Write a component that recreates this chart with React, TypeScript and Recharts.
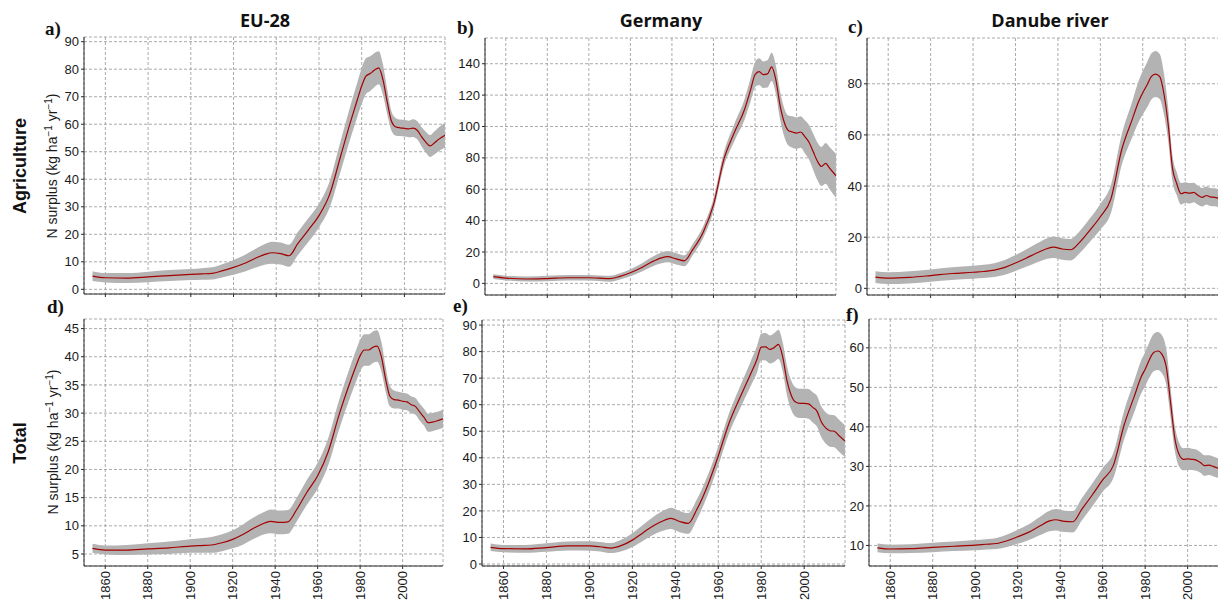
import { ComposedChart, Area, Line, XAxis, YAxis, CartesianGrid } from 'recharts'

const years = [
  1854, 1860, 1870, 1880, 1890, 1900, 1905, 1910, 1915, 1920,
  1925, 1930, 1935, 1938, 1942, 1946, 1950, 1955, 1960, 1965,
  1970, 1975, 1978, 1980, 1982, 1984, 1986, 1988, 1990, 1992,
  1994, 1996, 1998, 2000, 2002, 2004, 2006, 2008, 2010, 2012,
  2014, 2016, 2019,
]

// a) EU-28, agriculture
const euAgri = [
  4.8, 4.2, 4.1, 4.5, 5.0, 5.4, 5.6, 5.8, 6.8, 8.0,
  9.4, 11.2, 12.8, 13.3, 13.0, 12.2, 16.5, 21.5, 26.8, 34.5,
  48, 61.5, 69, 73.9, 77.5, 78.4, 79.7, 80.5, 76, 67.9,
  61, 59, 58.7, 58.5, 58.3, 58.6, 57.8, 55.5, 53.5, 52.1,
  53.2, 54.5, 56,
]
const euAgriBand = [
  1.8, 1.7, 1.8, 1.9, 2.0, 2.0, 2.1, 2.2, 2.4, 2.7,
  3.0, 3.4, 3.8, 4.0, 4.0, 4.0, 4.2, 4.3, 4.3, 4.8,
  5.5, 6.0, 6.3, 6.5, 6.5, 6.3, 6.2, 6.0, 5.5, 4.5,
  3.5, 3.2, 3.0, 3.0, 3.0, 3.2, 3.3, 3.5, 3.8, 4.0,
  4.2, 4.3, 4.5,
]

// b) Germany, agriculture
const deAgri = [
  4.3, 3.4, 2.8, 3.1, 3.6, 3.6, 3.3, 3.0, 4.5, 6.8,
  9.8, 13.5, 16.3, 17, 15.6, 14.4, 21.5, 32.5, 50, 79,
  96, 111, 124, 133, 135, 133, 133.5, 138, 130, 114,
  103, 97.5, 96.5, 95.8, 96.5, 93.5, 90, 84, 78, 74.5,
  76.5, 73.3, 68.6,
]
const deAgriBand = [
  1.5, 1.5, 1.6, 1.7, 1.8, 1.8, 1.8, 1.9, 2.0, 2.2,
  2.5, 3.0, 3.4, 3.6, 3.6, 3.5, 3.6, 3.8, 4.0, 4.5,
  5.5, 6.5, 7.5, 8.0, 8.5, 8.5, 8.7, 9.0, 9.0, 9.0,
  9.0, 9.5, 10, 10, 10, 10.5, 11, 11.5, 12, 12.5,
  13, 13.5, 14,
]

// c) Danube river, agriculture
const danAgri = [
  4.4, 4.0, 4.3, 5.0, 5.8, 6.3, 6.6, 7.1, 8.2, 9.9,
  11.8, 13.8, 15.6, 16.1, 15.4, 15.1, 17.8, 22.7, 28, 35,
  54, 66, 73, 76.5, 79.5, 82.8, 83.8, 82.8, 76, 64,
  47, 41, 37, 37.5, 37.2, 37.5, 36.4, 35.6, 36.3, 35.7,
  35.6, 35.2, 35.0,
]
const danAgriBand = [
  2.3, 2.3, 2.4, 2.4, 2.5, 2.5, 2.6, 2.7, 2.9, 3.1,
  3.4, 3.7, 4.0, 4.2, 4.2, 4.2, 4.3, 4.6, 5.0, 5.5,
  6.0, 7.0, 8.0, 8.5, 8.8, 9.0, 9.0, 8.8, 8.0, 6.5,
  5.0, 4.5, 4.2, 4.0, 4.0, 3.8, 3.7, 3.6, 3.5, 3.5,
  3.5, 3.5, 3.5,
]

// d) EU-28, total
const euTotal = [
  6.0, 5.7, 5.7, 5.9, 6.1, 6.4, 6.5, 6.6, 7.0, 7.6,
  8.5, 9.6, 10.5, 10.8, 10.6, 10.7, 12.8, 16, 18.9, 23.2,
  29.6, 35.2, 38.3, 40.2, 41.2, 41.2, 41.7, 41.9, 40, 36,
  33, 32.4, 32.3, 32.1, 32.0, 31.5, 31.2, 30.2, 29.3, 28.3,
  28.4, 28.6, 29.0,
]
const euTotalBand = [
  0.8, 0.8, 0.9, 1.0, 1.1, 1.2, 1.3, 1.4, 1.5, 1.6,
  1.8, 1.9, 2.0, 2.1, 2.1, 2.1, 2.1, 2.2, 2.3, 2.4,
  2.6, 2.7, 2.8, 2.8, 2.8, 2.8, 2.8, 2.8, 2.6, 2.2,
  1.8, 1.6, 1.5, 1.5, 1.5, 1.5, 1.5, 1.5, 1.5, 1.6,
  1.6, 1.6, 1.6,
]

// e) Germany, total
const deTotal = [
  6.3, 5.8, 5.7, 6.2, 6.8, 6.8, 6.5, 6.0, 7.0, 9.0,
  11.8, 14.5, 16.5, 17.2, 16.0, 15.3, 20.5, 29.5, 40.7, 53,
  62.5, 71.5, 77, 81.7, 81.8, 80.8, 81.5, 82.7, 78, 69,
  63.5, 61, 60.5, 60.5, 60.3, 59, 57.5, 53.5, 51.3, 50.2,
  50, 48.5, 46.3,
]
const deTotalBand = [
  1.4, 1.4, 1.5, 1.6, 1.7, 1.8, 1.8, 1.9, 2.2, 2.6,
  3.0, 3.4, 3.8, 4.0, 4.0, 3.9, 3.8, 3.7, 3.6, 3.8,
  4.2, 4.6, 5.0, 5.0, 5.2, 5.3, 5.4, 5.5, 5.5, 5.5,
  5.5, 5.5, 5.5, 5.5, 5.6, 5.7, 5.8, 5.8, 5.9, 6.0,
  6.0, 6.0, 6.0,
]

// f) Danube river, total
const danTotal = [
  9.4, 9.1, 9.2, 9.5, 9.8, 10.1, 10.3, 10.5, 11.2, 12.2,
  13.3, 14.8, 16.2, 16.5, 16.1, 16.0, 19, 22.7, 26.6, 30.2,
  40.3, 47.9, 52.5, 54.6, 57, 58.8, 59.2, 58.3, 55, 46,
  37, 33, 31.8, 31.9, 31.8, 31.6, 31, 30.2, 30.3, 30,
  29.6, 29.4, 29,
]
const danTotalBand = [
  1.1, 1.1, 1.1, 1.2, 1.2, 1.3, 1.3, 1.4, 1.6, 1.8,
  2.0, 2.3, 2.6, 2.7, 2.7, 2.7, 2.8, 2.9, 3.0, 3.2,
  3.6, 4.0, 4.2, 4.3, 4.5, 4.7, 4.8, 4.8, 4.5, 3.8,
  3.2, 3.0, 2.8, 2.8, 2.7, 2.7, 2.6, 2.6, 2.5, 2.5,
  2.5, 2.5, 2.5,
]

const yearTicks = [1860, 1880, 1900, 1920, 1940, 1960, 1980, 2000]
const columnTitles = ['EU-28', 'Germany', 'Danube river']
const rowTitles = ['Agriculture', 'Total']

const sans = '"Liberation Sans", Arial, sans-serif'
const serif = '"Liberation Serif", "Times New Roman", serif'
const border = '#2b2b2b'

function YearTick({ x, y, payload }: any) {
  return (
    <text
      x={x}
      y={y}
      transform={`rotate(-90, ${x}, ${y})`}
      textAnchor="end"
      dy="0.35em"
      fontSize={13}
      fontFamily={sans}
      fill="#1a1a1a"
    >
      {payload.value}
    </text>
  )
}

const NoTick = () => <g />

type PanelProps = {
  left: number
  top: number
  width: number
  height: number
  mid: number[]
  band: number[]
  domain: [number, number]
  ticks: number[]
  bottom?: boolean
}

function Panel({ left, top, width, height, mid, band, domain, ticks, bottom }: PanelProps) {
  const rows = years.map((year, i) => ({ year, mid: mid[i], range: [mid[i] - band[i], mid[i] + band[i]] }))
  const axisH = bottom ? 40 : 5
  return (
    <div style={{ position: 'absolute', left: left - 50, top: top - 2 }}>
      <ComposedChart
        width={width + 52}
        height={height + 2 + axisH}
        data={rows}
        margin={{ top: 2, right: 2, left: 0, bottom: 0 }}
      >
        <CartesianGrid stroke="#969696" strokeDasharray="3 2" strokeWidth={0.8} fill="#fff" />
        <XAxis
          dataKey="year"
          type="number"
          domain={[1850, 2019]}
          allowDataOverflow
          ticks={yearTicks}
          interval={0}
          height={axisH}
          tickSize={3}
          tickLine={{ stroke: border }}
          axisLine={{ stroke: border }}
          tick={bottom ? <YearTick /> : <NoTick />}
        />
        <XAxis
          xAxisId="top"
          orientation="top"
          dataKey="year"
          type="number"
          domain={[1850, 2019]}
          allowDataOverflow
          height={0}
          tick={false}
          tickLine={false}
          axisLine={{ stroke: border }}
        />
        <YAxis
          type="number"
          domain={domain}
          allowDataOverflow
          ticks={ticks}
          interval={0}
          width={50}
          tickSize={3}
          tickLine={{ stroke: border }}
          axisLine={{ stroke: border }}
          tick={{ fontSize: 13, fill: '#1a1a1a', fontFamily: sans }}
        />
        <YAxis
          yAxisId="right"
          orientation="right"
          type="number"
          domain={domain}
          allowDataOverflow
          width={0}
          tick={false}
          tickLine={false}
          axisLine={{ stroke: border }}
        />
        <Area
          type="monotone"
          dataKey="range"
          stroke="none"
          fill="#b3b3b3"
          fillOpacity={1}
          isAnimationActive={false}
        />
        <Line
          type="monotone"
          dataKey="mid"
          stroke="#a30000"
          strokeWidth={1.2}
          dot={false}
          isAnimationActive={false}
        />
      </ComposedChart>
    </div>
  )
}

function YLabel({ x, y }: { x: number; y: number }) {
  return (
    <text x={x} y={y} transform={`rotate(-90, ${x}, ${y})`} textAnchor="middle" fontSize={14} fontFamily={sans} fill="#1a1a1a">
      N surplus (kg ha<tspan dy={-5} fontSize={10}>−1</tspan>
      <tspan dy={5}> yr</tspan>
      <tspan dy={-5} fontSize={10}>−1</tspan>
      <tspan dy={5}>)</tspan>
    </text>
  )
}

export default function App() {
  return (
    <div style={{ position: 'absolute', left: 0, top: 0, width: 1218, height: 602, overflow: 'hidden', background: '#fff' }}>
      <svg width={1218} height={602} style={{ position: 'absolute', left: 0, top: 0 }}>
        {columnTitles.map((t, i) => (
          <text key={t} x={[265, 661, 1050][i]} y={27} textAnchor="middle" fontSize={18} fontWeight={700} fontFamily='"Open Sans", sans-serif' fill="#111">
            {t}
          </text>
        ))}
        {rowTitles.map((t, i) => (
          <text key={t} x={26} y={[166, 443][i]} transform={`rotate(-90, 26, ${[166, 443][i]})`} textAnchor="middle" fontSize={18} fontWeight={700} fontFamily={sans} fill="#111">
            {t}
          </text>
        ))}
        <YLabel x={57} y={166} />
        <YLabel x={58} y={442} />
        {[
          ['a)', 45, 35],
          ['b)', 457, 34],
          ['c)', 848, 33],
          ['d)', 47, 313],
          ['e)', 453, 312],
          ['f)', 846, 321],
        ].map(([t, x, y]) => (
          <text key={t as string} x={x as number} y={y as number} fontSize={19} fontWeight={700} fontFamily={serif} fill="#111">
            {t}
          </text>
        ))}
      </svg>
      <Panel left={84} top={37} width={361} height={257} mid={euAgri} band={euAgriBand} domain={[-1.7, 91.7]} ticks={[0, 10, 20, 30, 40, 50, 60, 70, 80, 90]} />
      <Panel left={485} top={38} width={351} height={257} mid={deAgri} band={deAgriBand} domain={[-7.4, 156.4]} ticks={[0, 20, 40, 60, 80, 100, 120, 140]} />
      <Panel left={866.5} top={38} width={358.5} height={257} mid={danAgri} band={danAgriBand} domain={[-2.6, 97.9]} ticks={[0, 20, 40, 60, 80]} />
      <Panel left={84} top={319} width={359} height={247} mid={euTotal} band={euTotalBand} domain={[2.87, 46.7]} ticks={[5, 10, 15, 20, 25, 30, 35, 40, 45]} bottom />
      <Panel left={482} top={320} width={363} height={246} mid={deTotal} band={deTotalBand} domain={[-0.75, 91.9]} ticks={[0, 10, 20, 30, 40, 50, 60, 70, 80, 90]} bottom />
      <Panel left={869} top={319} width={359} height={247} mid={danTotal} band={danTotalBand} domain={[4.8, 67.3]} ticks={[10, 20, 30, 40, 50, 60]} bottom />
    </div>
  )
}
